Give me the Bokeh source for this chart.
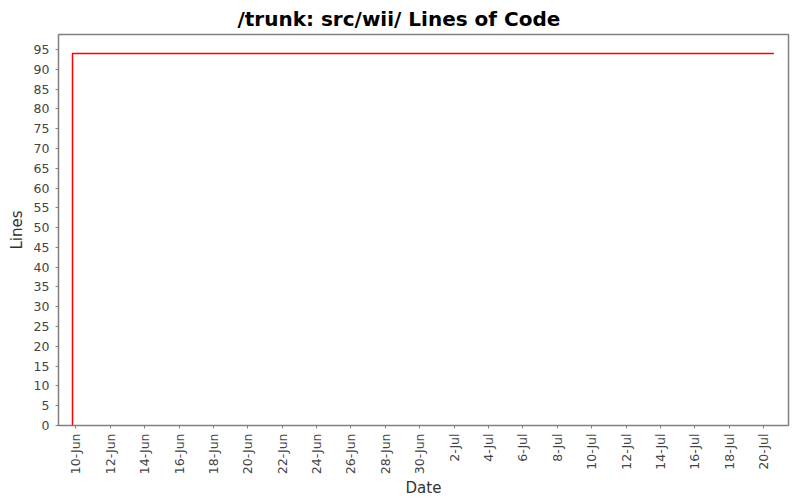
from datetime import datetime
from bokeh.plotting import figure
from bokeh.models import Range1d, FixedTicker, CustomJSTickFormatter, ColumnDataSource
from bokeh.embed import file_html
from bokeh.resources import INLINE
from math import pi

# ---- data ----
dates = [datetime(2008, 6, 9, 19, 18), datetime(2008, 6, 9, 19, 18), datetime(2008, 7, 20, 14, 30)]
lines_of_code = [0, 94, 94]

tick_dates = [datetime(2008, 6, 10 + 2 * i) for i in range(11)] + \
             [datetime(2008, 7, 2 + 2 * i) for i in range(10)]
y_ticks = list(range(0, 100, 5))

title_text = "/trunk: src/wii/ Lines of Code"
x_label = "Date"
y_label = "Lines"

x_start = datetime(2008, 6, 8, 23, 45)
x_end = datetime(2008, 7, 21, 10, 50)
y_start, y_end = 0, 98.8

def ms(d):
    return (d - datetime(1970, 1, 1)).total_seconds() * 1000.0

FONT = "DejaVu Sans"

p = figure(width=792, height=500, x_axis_type="datetime",
           x_range=Range1d(ms(x_start), ms(x_end)), y_range=Range1d(y_start, y_end),
           output_backend="svg", toolbar_location=None,
           min_border_left=58, min_border_right=4, min_border_top=33, min_border_bottom=74,
           background_fill_color="white", border_fill_color="white")

p.title.text = title_text
p.title.align = "left"
p.title.text_font = FONT
p.title.text_font_size = "20px"
p.title.text_font_style = "bold"
p.title.text_color = "black"
p.title.standoff = 8
p.title.offset = 179

src = ColumnDataSource(dict(x=[ms(d) for d in dates], y=lines_of_code))
p.line("x", "y", source=src, line_color="#ff0000", line_width=1.5)

p.grid.visible = False
p.outline_line_color = "#808080"
p.outline_line_width = 1.5

p.xaxis.ticker = FixedTicker(ticks=[ms(d) for d in tick_dates])
p.xaxis.formatter = CustomJSTickFormatter(code="""
const m = ['Jan','Feb','Mar','Apr','May','Jun','Jul','Aug','Sep','Oct','Nov','Dec'];
const d = new Date(tick);
return d.getUTCDate() + '-' + m[d.getUTCMonth()];
""")
p.xaxis.major_label_orientation = pi / 2
p.yaxis.ticker = FixedTicker(ticks=y_ticks)

for ax in (p.xaxis[0], p.yaxis[0]):
    ax.axis_line_color = "#808080"
    ax.axis_line_width = 1
    ax.major_tick_line_color = "#808080"
    ax.major_tick_in = 0
    ax.major_tick_out = 3
    ax.minor_tick_line_color = None
    ax.major_label_text_font = FONT
    ax.major_label_text_font_size = "12.5px"
    ax.major_label_text_color = "#444444"
    ax.axis_label_text_font = FONT
    ax.axis_label_text_font_size = "15px"
    ax.axis_label_text_font_style = "normal"
    ax.axis_label_text_color = "#333333"

p.yaxis.major_label_standoff = 6
p.xaxis.major_label_standoff = 5
p.yaxis.axis_label_standoff = 5
p.xaxis.axis_label_standoff = 2

p.xaxis.axis_label = x_label
p.yaxis.axis_label = y_label

open("out.html", "w").write(file_html(p, INLINE))
